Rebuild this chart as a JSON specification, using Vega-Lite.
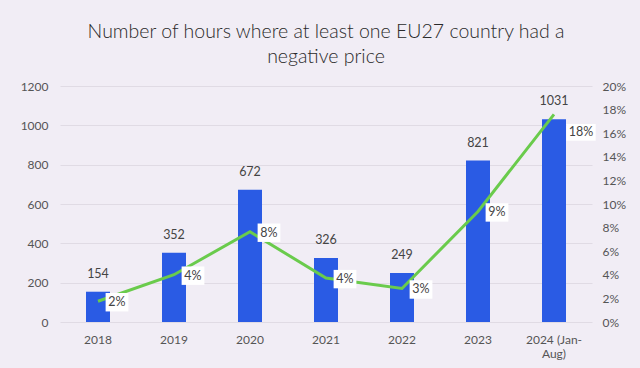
{
  "$schema": "https://vega.github.io/schema/vega-lite/v6.json",
  "width": 532,
  "height": 236,
  "autosize": {"type": "none"},
  "padding": {"left": 60, "top": 86, "right": 48, "bottom": 46},
  "background": "#f1edf5",
  "config": {
    "view": {"stroke": null},
    "font": "Lato",
    "axis": {"labelFont": "Lato", "labelColor": "#555555", "labelFontSize": 12, "domain": false, "ticks": false, "title": null}
  },
  "title": {
    "text": ["Number of hours where at least one EU27 country had a", "negative price"],
    "fontSize": 19.5,
    "fontWeight": 300,
    "color": "#2a2a2a",
    "font": "Lato",
    "lineHeight": 25,
    "offset": 13,
    "anchor": "middle"
  },
  "data": {
    "values": [
      {"year": "2018", "hours": 154, "pct": 1.76, "label": "2%"},
      {"year": "2019", "hours": 352, "pct": 4.01, "label": "4%"},
      {"year": "2020", "hours": 672, "pct": 7.65, "label": "8%"},
      {"year": "2021", "hours": 326, "pct": 3.72, "label": "4%"},
      {"year": "2022", "hours": 249, "pct": 2.84, "label": "3%"},
      {"year": "2023", "hours": 821, "pct": 9.37, "label": "9%"},
      {"year": "2024 (Jan-Aug)", "hours": 1031, "pct": 17.6, "label": "18%"}
    ]
  },
  "encoding": {
    "x": {
      "field": "year", "type": "nominal", "sort": null,
      "scale": {"paddingInner": 0, "paddingOuter": 0},
      "axis": {"labelAngle": 0, "labelPadding": 12, "grid": false,
        "labelExpr": "datum.label == '2024 (Jan-Aug)' ? ['2024 (Jan-', 'Aug)'] : datum.label"}
    }
  },
  "layer": [
    {
      "encoding": {
        "y": {"field": "hours", "type": "quantitative",
          "scale": {"domain": [0, 1200]},
          "axis": {"orient": "left", "values": [0, 200, 400, 600, 800, 1000, 1200], "format": "d", "grid": true, "gridColor": "#dcd6e0", "gridWidth": 0.8, "labelPadding": 12}}
      },
      "layer": [
        {"mark": {"type": "bar", "size": 24, "color": "#2a5be4"}},
        {"mark": {"type": "text", "dy": -11, "fontSize": 12.5, "color": "#444444", "baseline": "bottom"}, "encoding": {"text": {"field": "hours"}}, "transform": [{"filter": "datum.hours > 0"}]}
      ]
    },
    {
      "encoding": {
        "y": {"field": "pct", "type": "quantitative",
          "scale": {"domain": [0, 20]},
          "axis": {"orient": "right", "values": [0, 2, 4, 6, 8, 10, 12, 14, 16, 18, 20], "grid": false, "labelExpr": "datum.value + '%'", "labelPadding": 10}}
      },
      "layer": [
        {"mark": {"type": "line", "color": "#6acb4c", "strokeWidth": 3, "interpolate": "linear"}},
        {"transform": [{"filter": "datum.pct < 10"}],
         "mark": {"type": "point", "shape": "M-1.05,-0.85H1.05V0.85H-1.05Z", "filled": true, "color": "white", "opacity": 1, "size": 470, "xOffset": 19, "yOffset": 1}},
        {"transform": [{"filter": "datum.pct < 10"}],
         "mark": {"type": "text", "fontSize": 12.5, "color": "#444444", "dx": 19, "dy": 1},
         "encoding": {"text": {"field": "label"}}},
        {"transform": [{"filter": "datum.pct >= 10"}],
         "mark": {"type": "point", "shape": "M-1.4,-0.8H1.4V0.8H-1.4Z", "filled": true, "color": "white", "opacity": 1, "size": 440, "xOffset": 27, "yOffset": 18}},
        {"transform": [{"filter": "datum.pct >= 10"}],
         "mark": {"type": "text", "fontSize": 12.5, "color": "#444444", "dx": 27, "dy": 18},
         "encoding": {"text": {"field": "label"}}}
      ]
    }
  ],
  "resolve": {"scale": {"y": "independent"}}
}
